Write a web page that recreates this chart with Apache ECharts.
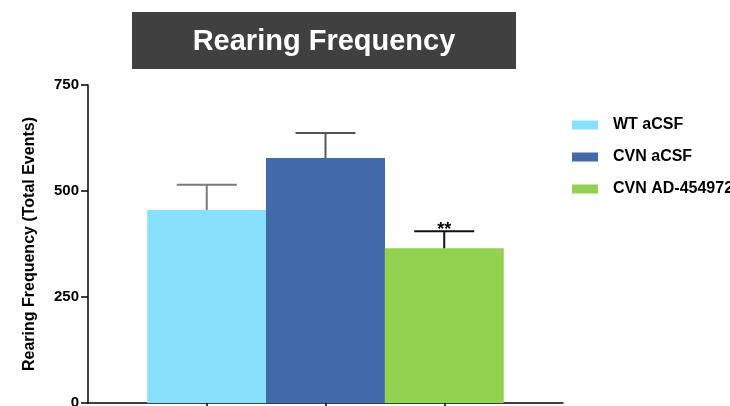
<!DOCTYPE html>
<html>
<head>
<meta charset="utf-8">
<script src="https://cdn.jsdelivr.net/npm/echarts@6/dist/echarts.min.js"></script>
<style>
  html, body { margin: 0; padding: 0; background: #fff; }
  #chart { width: 730px; height: 406px; }
</style>
</head>
<body>
<div id="chart"></div>
<script>
// Groups, mean rearing counts and their SEM
const groups = ['WT aCSF', 'CVN aCSF', 'CVN AD-454972'];
const means = [455, 578, 365];
const sems = [60, 59, 40];
const significance = ['', '', '**'];
const yTicks = [0, 250, 500, 750];

const barColors = ['#88E1FC', '#4269AA', '#93D150'];
const errColors = ['#7a7a7a', '#555555', '#111111'];
const FONT = 'Liberation Sans, Arial, sans-serif';

// each group sits at x = 1, 2, 3 on a 0..4 axis
const positions = groups.map((g, i) => i + 1);

const barSeries = groups.map((name, i) => ({
  name: name,
  type: 'bar',
  data: [[positions[i], means[i]]],
  barWidth: 119,
  barGap: '-100%',
  itemStyle: { color: barColors[i] },
  silent: true
}));

const errorSeries = {
  type: 'custom',
  silent: true,
  data: groups.map((g, i) => [positions[i], means[i], sems[i], i]),
  renderItem: function (params, api) {
    const x = api.value(0), m = api.value(1), s = api.value(2), idx = api.value(3);
    const base = api.coord([x, m]);
    const top = api.coord([x, m + s]);
    const half = 30;
    const color = errColors[idx];
    const children = [
      { type: 'line', shape: { x1: top[0], y1: base[1], x2: top[0], y2: top[1] },
        style: { stroke: color, lineWidth: 2 } },
      { type: 'line', shape: { x1: top[0] - half, y1: top[1], x2: top[0] + half, y2: top[1] },
        style: { stroke: color, lineWidth: 2 } }
    ];
    if (significance[idx]) {
      children.push({
        type: 'text',
        style: {
          text: significance[idx], x: top[0], y: top[1] - 1,
          align: 'center', verticalAlign: 'middle',
          font: 'bold 18px ' + FONT, fill: '#000'
        }
      });
    }
    return { type: 'group', children: children };
  },
  z: 5
};

const chart = echarts.init(document.getElementById('chart'), null, { renderer: 'canvas' });
chart.setOption({
  animation: false,
  backgroundColor: '#ffffff',
  graphic: [
    { type: 'rect', shape: { x: 132, y: 12, width: 384, height: 57 }, style: { fill: '#404040' } },
    { type: 'text', style: { text: 'Rearing Frequency', x: 324, y: 42, align: 'center', verticalAlign: 'middle',
        font: 'bold 29px ' + FONT, fill: '#ffffff' } }
  ],
  legend: {
    orient: 'vertical',
    left: 567,
    top: 112,
    icon: 'rect',
    itemWidth: 26,
    itemHeight: 9,
    itemGap: 16,
    data: groups,
    selectedMode: false,
    textStyle: { fontFamily: FONT, fontWeight: 'bold', fontSize: 16, color: '#000', lineHeight: 16, padding: [0, 0, 0, 10] }
  },
  grid: { left: 88, right: 167, top: 85, bottom: 3, containLabel: false, outerBoundsMode: 'none' },
  xAxis: {
    type: 'value',
    min: 0,
    max: 4,
    interval: 1,
    splitLine: { show: false },
    axisLine: { show: true, lineStyle: { color: '#000', width: 1.5 } },
    axisTick: { show: true, customValues: positions, length: 5, lineStyle: { color: '#000', width: 1.5 } },
    axisLabel: { show: false }
  },
  yAxis: {
    type: 'value',
    min: yTicks[0],
    max: yTicks[yTicks.length - 1],
    interval: 250,
    name: 'Rearing Frequency (Total Events)',
    nameLocation: 'middle',
    nameRotate: 90,
    nameGap: 50,
    nameTextStyle: { fontFamily: FONT, fontWeight: 'bold', fontSize: 16, color: '#000' },
    splitLine: { show: false },
    axisLine: { show: true, lineStyle: { color: '#000', width: 1.5 } },
    axisTick: { show: true, length: 7, lineStyle: { color: '#000', width: 1.5 } },
    axisLabel: { fontFamily: FONT, fontWeight: 'bold', fontSize: 15, color: '#000', margin: 9 }
  },
  series: barSeries.concat([errorSeries])
});
</script>
</body>
</html>
